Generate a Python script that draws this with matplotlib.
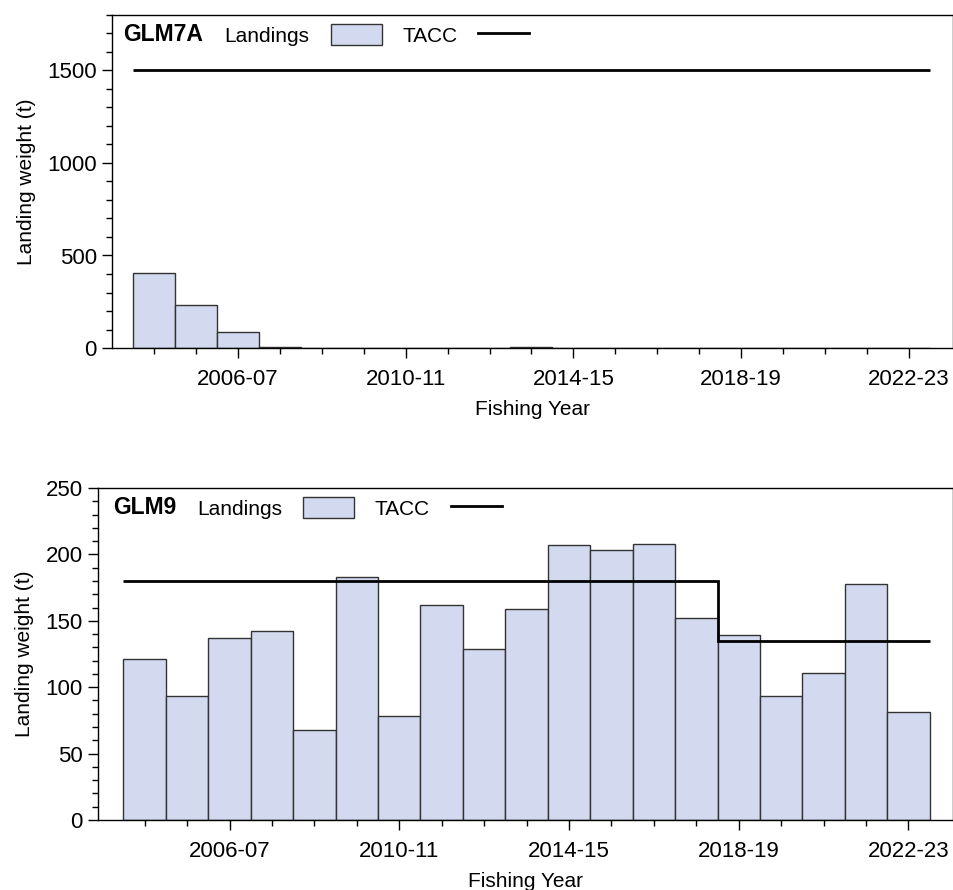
import numpy as np
import matplotlib.pyplot as plt
from matplotlib.patches import Rectangle
from matplotlib.lines import Line2D

plt.rcParams['font.family'] = ['Liberation Sans', 'DejaVu Sans']

#Fishing years (start year), 2004-05 .. 2022-23
years = np.arange(2004, 2023)
tick_years = [2006, 2010, 2014, 2018, 2022]
tick_labels = ['2006-07', '2010-11', '2014-15', '2018-19', '2022-23']

#GLM7A landings and TACC (t)
glm7a_land = [408, 230, 86, 5, 1, 0, 0, 0, 0, 3, 0, 0, 0, 0, 0, 0, 0, 0, 0]
glm7a_tacc = [1500]*19

#GLM9 landings and TACC (t)
glm9_land = [121, 93, 137, 142, 68, 183, 78, 162, 129, 159, 207, 203, 208, 152, 139, 93, 111, 178, 81]
glm9_tacc = [180]*14 + [135]*5

tick_fnt = 16
lab_fnt = 15
bar_col = '#D3DAF0'

fig = plt.figure(figsize=(9.54, 8.9), dpi=100)
W, H = 954, 890
ax1 = fig.add_axes([112/W, (H-348)/H, (953-112)/W, (348-15)/H])
ax2 = fig.add_axes([98/W, (H-820)/H, (953-98)/W, (820-488)/H])

panels = [
    (ax1, 'GLM7A', glm7a_land, glm7a_tacc, (0, 1800), 500, 100, (2003.0, 2023.05), 0.013, 0.134),
    (ax2, 'GLM9', glm9_land, glm9_tacc, (0, 250), 50, 10, (2002.9, 2023.05), 0.0175, 0.116),
]

for ax, name, land, tacc, ylim, ymaj, ymin, xlim, name_x, leg_x in panels:
    ax.bar(years, land, width=1.0, color=bar_col, edgecolor='#333333', linewidth=1.0)
    edges = np.append(years - 0.5, years[-1] + 0.5)
    ax.stairs(tacc, edges, baseline=None, color='black', linewidth=2)
    ax.set_xlim(*xlim)
    ax.set_ylim(*ylim)
    ax.set_xticks(tick_years)
    ax.set_xticklabels(tick_labels)
    ax.set_xticks(years, minor=True)
    ax.set_yticks(np.arange(0, ylim[1] + 1, ymaj))
    ax.set_yticks(np.arange(0, ylim[1] + 1, ymin), minor=True)
    ax.tick_params(which='major', direction='out', length=7, labelsize=tick_fnt, width=1)
    ax.tick_params(which='minor', direction='out', length=4, width=1)
    ax.tick_params(axis='x', which='major', pad=8)
    ax.tick_params(axis='y', which='major', pad=4)
    for s in ax.spines.values():
        s.set_linewidth(1)
    ax.set_xlabel('Fishing Year', fontsize=lab_fnt, labelpad=7)
    ax.set_ylabel('Landing weight (t)', fontsize=lab_fnt, labelpad=8)
    ax.text(name_x, 0.94, name, transform=ax.transAxes, fontsize=16.5,
            fontweight='bold', va='center', ha='left')
    handles = [Rectangle((0, 0), 1, 1, facecolor=bar_col, edgecolor='#333333', linewidth=1),
               Line2D([0], [0], color='black', linewidth=2)]
    ax.legend(handles, ['Landings', 'TACC'], ncol=2, markerfirst=False, frameon=False,
              loc='center left', bbox_to_anchor=(leg_x, 0.94), fontsize=lab_fnt,
              handlelength=2.45, handleheight=1.15, handletextpad=1.0, columnspacing=1.0,
              borderpad=0, borderaxespad=0)

fig.savefig('out.png', dpi=100)
